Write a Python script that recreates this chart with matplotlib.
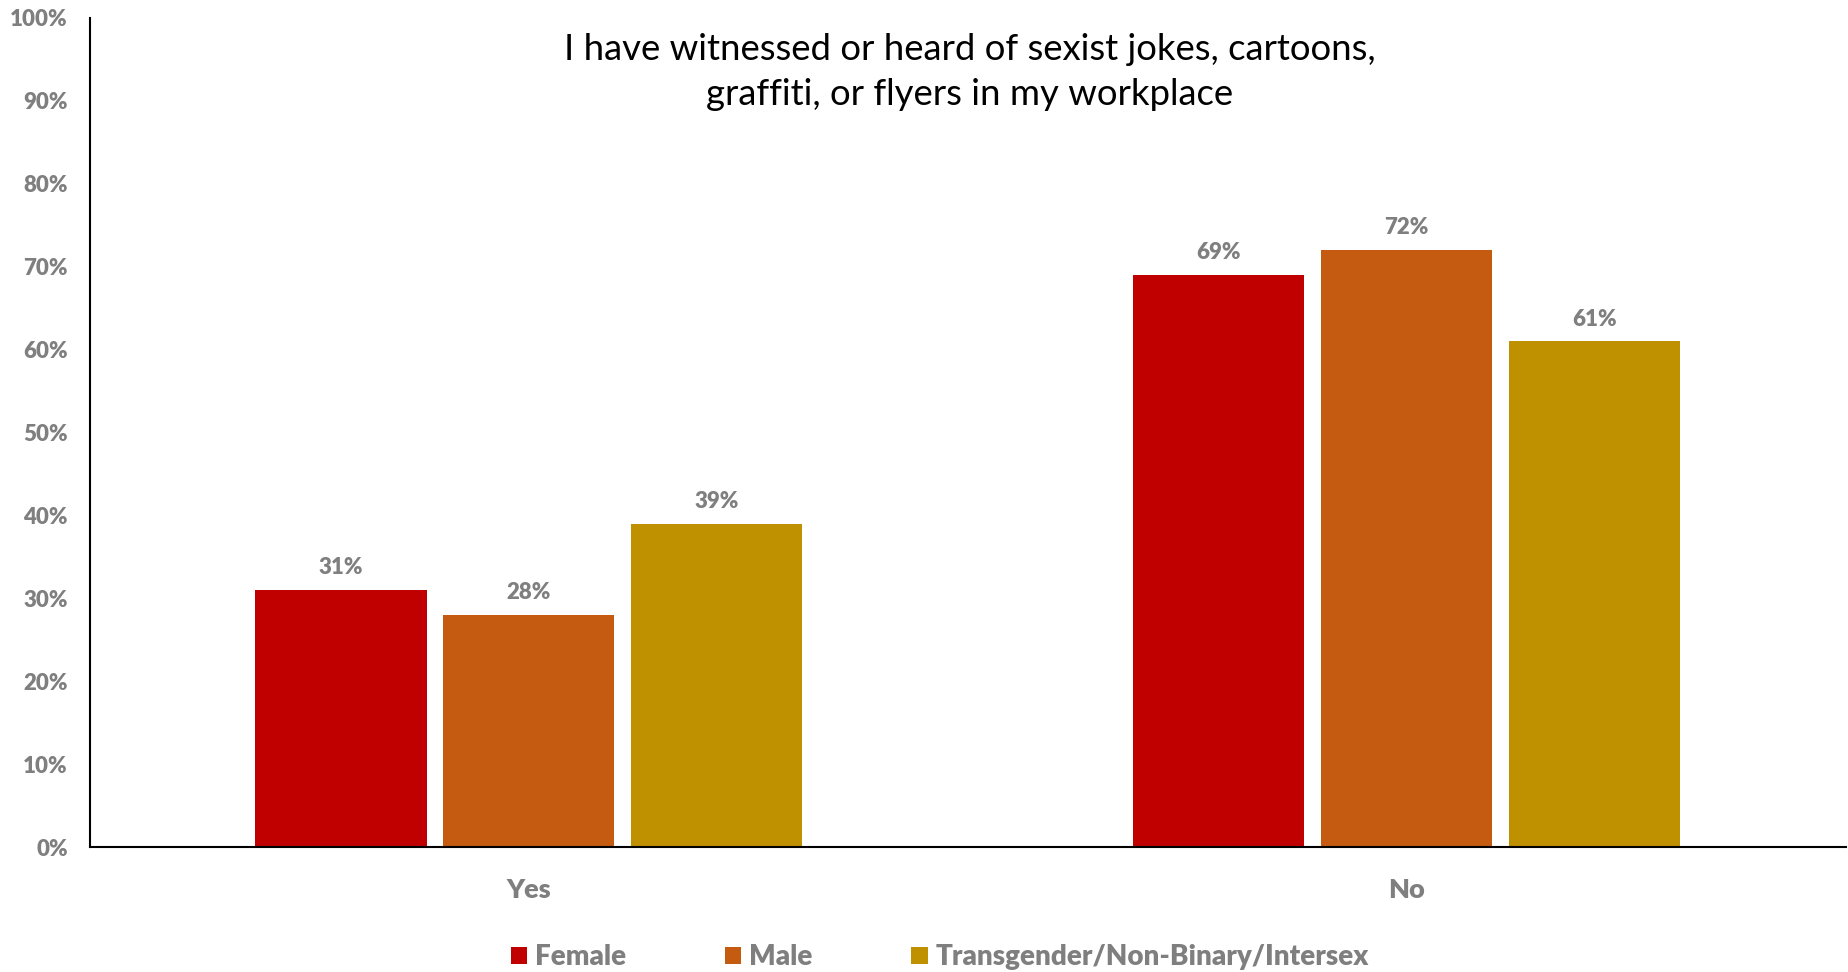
import numpy as np
import matplotlib
matplotlib.use("Agg")
import matplotlib.pyplot as plt
from matplotlib.patches import Patch

# Survey responses by gender group
answers = ["Yes", "No"]
groups = ["Female", "Male", "Transgender/Non-Binary/Intersex"]
female = [0.31, 0.69]
male = [0.28, 0.72]
trans = [0.39, 0.61]
colors = ["#C00000", "#C55A11", "#BF9000"]

y_ticks = [0.0, 0.1, 0.2, 0.3, 0.4, 0.5, 0.6, 0.7, 0.8, 0.9, 1.0]
y_labels = ["0%", "10%", "20%", "30%", "40%", "50%", "60%", "70%", "80%", "90%", "100%"]

title = "I have witnessed or heard of sexist jokes, cartoons,\ngraffiti, or flyers in my workplace"

plt.rcParams["font.family"] = ["Lato", "DejaVu Sans"]
grey = "#7F7F7F"

fig = plt.figure(figsize=(18.48, 9.72), dpi=100)
ax = fig.add_axes([0.0487, 0.1286, 0.9500, 0.8529])

x = np.arange(len(answers))
width = 0.195
step = 0.214
series = [female, male, trans]
for i, (vals, name, col) in enumerate(zip(series, groups, colors)):
    pos = x + (i - 1) * step
    bars = ax.bar(pos, vals, width, color=col, label=name)
    for b, v in zip(bars, vals):
        ax.annotate(f"{v * 100:.0f}%", (b.get_x() + b.get_width() / 2, v),
                    xytext=(0, 16), textcoords="offset points",
                    ha="center", va="center", fontsize=16,
                    fontweight="heavy", color=grey)

ax.set_xlim(-0.5, 1.5)
ax.set_ylim(0, 1.0)
ax.set_yticks(y_ticks)
ax.set_yticklabels(y_labels, fontsize=16, fontweight="heavy", color=grey)
ax.set_xticks(x)
ax.set_xticklabels(answers, fontsize=19.5, fontweight="heavy", color=grey)
ax.tick_params(axis="y", length=0, pad=16)
ax.tick_params(axis="x", length=0, pad=22.5)

for side in ["top", "right"]:
    ax.spines[side].set_visible(False)
for side in ["left", "bottom"]:
    ax.spines[side].set_linewidth(1.5)
    ax.spines[side].set_color("black")

fig.text(0.5248, 0.926, title, ha="center", va="center", fontsize=26.3,
         color="black", linespacing=1.45)

handles = [Patch(facecolor=c, label=g) for c, g in zip(colors, groups)]
leg = fig.legend(handles=handles, loc="center", bbox_to_anchor=(0.5087, 0.015),
                 ncol=3, frameon=False, handlelength=0.58,
                 handleheight=0.58, handletextpad=0.3, columnspacing=3.55,
                 prop={"weight": "heavy", "size": 20.0})
for t in leg.get_texts():
    t.set_color(grey)

fig.savefig("out.png", dpi=100)
